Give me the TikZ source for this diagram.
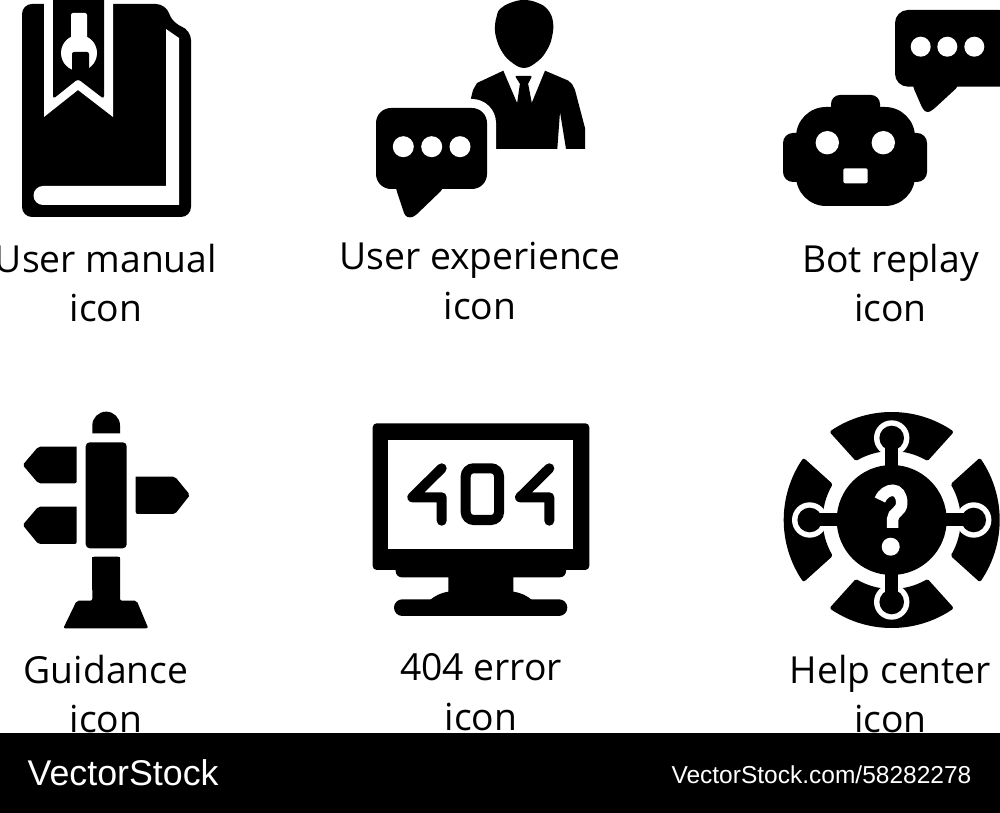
\documentclass[tikz,border=0pt]{standalone}
\usepackage{fontspec}
\setmainfont{Open Sans}
\newfontfamily\barfont{Liberation Sans}
\usepackage{tikz}

\begin{document}
\begin{tikzpicture}[x=0.01cm,y=-0.01cm,
	blk/.style={fill=black},wht/.style={fill=white},
	caption/.style={align=center,inner sep=0pt,font=\fontsize{10.6}{14.2}\selectfont},
	sq/.style={draw=black,fill=black,line join=round,line width=0.04cm}]

	\fill[white] (0,0) rectangle (1000,813);
	\useasboundingbox (0,0) rectangle (1000,813);

	% The book
	\fill[blk,rounded corners=0.1cm] (22,4) -- (166,4) .. controls (172,22) and (180,26) .. (191,30) -- (191,217) -- (22,217) -- cycle;
	\fill[wht] (166,29) -- (179,38) -- (179,205) -- (43,205) arc[start angle=90,end angle=270,radius=9.5] -- (166,186) -- cycle;
	\fill[wht] (44,0) -- (113,0) -- (113,117) -- (78,90) -- (44,117) -- cycle;
	\fill[blk,rounded corners=0.03cm] (53,-5) -- (104,-5) -- (104,99) -- (78,79) -- (53,99) -- cycle;
	\fill[wht,rounded corners=0.02cm] (71,45) -- (71,13) -- (87,13) -- (87,45) -- cycle;
	\fill[wht] (79,53) circle (18);
	\fill[blk,rounded corners=0.02cm] (72,52) -- (89,52) -- (89,76) -- (72,76) -- cycle;

	% The person
	\fill[blk] plot[smooth cycle,tension=0.7] coordinates {(495,26) (496,37) (501,50) (510,61) (524,68) (538,61) (547,50) (552,37) (553,22) (548,10) (538,3) (524,0) (510,3) (500,9) (497,15)};
	\fill[blk] (471,98) -- (473,90) -- (477,83) -- (503.3,70.7) -- (517.3,103.5) -- (531.5,103.5) -- (545,70.7) -- (568,80.5) -- (572,84) -- (575,90) -- (585,128) -- (585,149) -- (566,149) -- (560,112) -- (557.3,149) -- (470,149) -- cycle;
	\fill[blk,rounded corners=0.01cm] (515,76) -- (532,76) -- (528,84) -- (520,84) -- cycle;
	\fill[blk] (520,83) -- (517,104) -- (532,104) -- (528,83) -- cycle;

	% The person's bubble
	\fill[wht,rounded corners=0.24cm] (367,99) rectangle (496,198);
	\fill[blk,rounded corners=0.15cm] (376,108) rectangle (487,189);
	\fill[blk,rounded corners=0.03cm] (396,185) -- (396,189) -- (405,216) -- (410,218) -- (415,216) -- (443,189) -- (443,185) -- cycle;
	\foreach \xc in {403.3,431.7,460}
		\fill[wht] (\xc,146.7) circle (10.5);

	% The robot
	\fill[blk,rounded corners=0.09cm] (831,120) rectangle (880,95);
	\fill[blk,rounded corners=0.1cm] (783,133) rectangle (927,182);
	\fill[blk,rounded corners=0.3cm] (796,107) rectangle (915,206);
	\fill[wht] (827.3,142.7) circle (11.7);
	\fill[wht] (883.3,142.7) circle (11.7);
	\fill[wht,rounded corners=0.02cm] (843.3,168.3) rectangle (867.7,183.3);

	% The robot's bubble
	\fill[blk,rounded corners=0.13cm] (895,10) rectangle (1012,86.7);
	\fill[blk,rounded corners=0.03cm] (913,82) -- (913,86.7) -- (922.7,109) -- (927,113) -- (932.7,110) -- (958,86.7) -- (958,82) -- cycle;
	\foreach \xc in {920.7,947.3,974.3}
		\fill[wht] (\xc,46.7) circle (10);

	% The signpost
	\fill[blk] (92.3,433.3) -- (92.3,425.5) arc[start angle=180,end angle=360,radius=13.85] -- (120,433.3) -- cycle;
	\fill[blk,rounded corners=0.04cm] (85.7,442.3) rectangle (126.7,548.3);
	\fill[blk,rounded corners=0.02cm] (76.7,446.7) -- (38.3,446.7) -- (22.7,465) -- (38.3,483.3) -- (76.7,483.3) -- (76.7,446.7);
	\fill[blk,rounded corners=0.02cm] (76.7,506.7) -- (38.3,506.7) -- (22.7,525) -- (38.3,544) -- (76.7,544) -- (76.7,506.7);
	\fill[blk,rounded corners=0.02cm] (135.7,476.7) -- (175,476.7) -- (190,495) -- (175,514) -- (135.7,514) -- (135.7,476.7);
	\fill[blk,rounded corners=0.02cm] (92.3,556.7) -- (92.3,600.7) -- (76.7,600.7) -- (63.3,628.3) -- (148.3,628.3) -- (136.7,600.7) -- (120,600.7) -- (120,556.7) -- cycle;
	\fill[blk] (92.3,556.7) rectangle (120,590);

	% The monitor
	\fill[blk,rounded corners=0.04cm] (372.7,423.3) rectangle (589.3,570);
	\fill[blk,rounded corners=0.06cm] (395.7,560) rectangle (566,577.3);
	\fill[wht] (388.3,440) rectangle (573.3,549);
	\fill[blk] (448.3,570) -- (448.3,591.7) .. controls (440,593) and (435,596) .. (430,600) -- (532,600) .. controls (527,596) and (522,593) .. (513.3,591.7) -- (513.3,570) -- cycle;
	\fill[blk,rounded corners=0.083cm] (394,599.3) rectangle (567.3,616);
	\draw[line width=0.1cm,line cap=round,line join=round] (441.7,468.3) -- (412.3,497.3) -- (441.7,497.3) -- (441.7,520.7);
	\draw[line width=0.1cm,rounded corners=0.08cm] (465.7,468.3) rectangle (499,520);
	\draw[line width=0.1cm,line cap=round,line join=round] (549.3,468.3) -- (520,497.3) -- (549.3,497.3) -- (549.3,520.7);

	% The help wheel
	\begin{scope}[shift={(891.7,520)}]
		\foreach \rot in {0,90,180,270} {
			\begin{scope}[rotate=\rot]
				\draw[sq] (34:106) arc[start angle=34,end angle=-34,radius=106] -- (-30:71) arc[start angle=-30,end angle=30,radius=71] -- cycle;
				\fill[wht] (82,0) circle (17.7);
				\fill[blk] (45,-6.5) rectangle (82,6.5);
				\fill[blk] (82,0) circle (12.3);
			\end{scope}
		}
		\fill[blk] (0,0) circle (55);
		\draw[white,line width=0.115cm] (-11.7,-20) .. controls (-9,-27) and (-3,-29.7) .. (1,-29.7) .. controls (6,-29.7) and (10,-25) .. (10,-17) .. controls (10,-8) and (1,-8) .. (1,-1) -- (1,8);
		\fill[wht] (-1,26.7) circle (9);
	\end{scope}

	% The captions
	\node [caption] at (106,283) (manual) {User manual\\icon};
	\node [caption] at (480,281) (experience) {User experience\\icon};
	\node [caption] at (890.5,283) (replay) {Bot replay\\icon};
	\node [caption] at (106,694) (guidance) {Guidance\\icon};
	\node [caption] at (481,692) (error) {404 error\\icon};
	\node [caption] at (890.5,694) (help) {Help center\\icon};

	% The bar
	\fill[blk] (0,733) rectangle (1000,813);
	\node [text=white,inner sep=0pt,anchor=base west,font=\barfont\fontsize{10.17}{11}\selectfont] at (27,785) (brand) {VectorStock};
	\node [text=white,inner sep=0pt,anchor=base east,font=\barfont\fontsize{6.97}{8}\selectfont] at (972,783) (link) {VectorStock.com/58282278};

\end{tikzpicture}
\end{document}
